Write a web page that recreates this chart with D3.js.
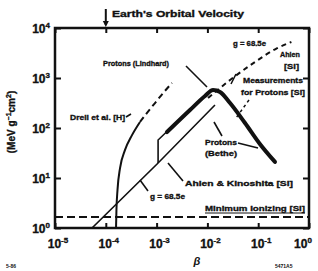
<!DOCTYPE html>
<html>
<head>
<meta charset="utf-8">
<script src="https://cdn.jsdelivr.net/npm/d3@7"></script>
<style>
  body { margin: 0; background: #fff; }
  text { font-family: "Liberation Sans", Arial, sans-serif; font-weight: bold; fill: #111; }
  .heavy { stroke: #111; stroke-width: 0.35; }
</style>
</head>
<body>
<svg id="chart"></svg>
<script>
// decades on both axes
const xDecades = [1e-5, 1e-4, 1e-3, 1e-2, 1e-1, 1];
const xExponents = ['-5', '-4', '-3', '-2', '-1', '0'];
const yDecades = [1, 10, 100, 1000, 10000];
const yExponents = ['0', '1', '2', '3', '4'];

// [beta, dE/dx in MeV g^-1 cm^2]
const drellSolid = [[1.59e-4, 1.0], [1.62e-4, 2.3], [1.70e-4, 5.8], [1.91e-4, 16], [2.38e-4, 36], [3.28e-4, 72], [4.71e-4, 132]];
const drellDashed = [[4.71e-4, 132], [6.2e-4, 190], [9.3e-4, 316], [1.40e-3, 525], [2.01e-3, 794]];
const monopoleLow = [[5.35e-5, 1.0], [1.07e-3, 20], [1.41e-2, 288]];
const kinoshitaUpper = [[1.07e-3, 20], [1.07e-3, 57.5], [8.97e-3, 457]];
const protons = [[1.6e-3, 83], [4.54e-3, 229], [8.97e-3, 437], [1.29e-2, 575], [1.77e-2, 525], [2.79e-2, 316], [5.5e-2, 126], [0.108, 48], [0.214, 21]];
const ahlenHigh = [[1.03e-2, 398], [2.79e-2, 912], [8.65e-2, 2090], [0.22, 3800], [0.45, 5250]];
const minIonizing = 1.66;
const earthBeta = 1e-4;

const W = 318, H = 271;
const margin = { left: 55, right: 9, top: 28, bottom: 43 };

const svg = d3.select('#chart').attr('width', W).attr('height', H);

const x = d3.scaleLog().domain([1e-5, 1]).range([margin.left, W - margin.right]);
const y = d3.scaleLog().domain([1, 1e4]).range([H - margin.bottom, margin.top]);

svg.append('clipPath').attr('id', 'plot')
  .append('rect')
  .attr('x', x(1e-5)).attr('y', y(1e4))
  .attr('width', x(1) - x(1e-5)).attr('height', y(1) - y(1e4));

// inward ticks on all four sides
const noLabel = () => '';
svg.append('g').attr('transform', `translate(0,${y(1)})`)
  .call(d3.axisBottom(x).tickValues(xDecades).tickSize(-5).tickFormat(noLabel));
svg.append('g').attr('transform', `translate(0,${y(1e4)})`)
  .call(d3.axisTop(x).tickValues(xDecades).tickSize(-5).tickFormat(noLabel));
svg.append('g').attr('transform', `translate(${x(1e-5)},0)`)
  .call(d3.axisLeft(y).tickValues(yDecades).tickSize(-6).tickFormat(noLabel));
svg.append('g').attr('transform', `translate(${x(1)},0)`)
  .call(d3.axisRight(y).tickValues(yDecades).tickSize(-6).tickFormat(noLabel));
svg.selectAll('.domain').remove();
svg.selectAll('.tick line').attr('stroke', '#111').attr('stroke-width', 2);

// frame
svg.append('rect')
  .attr('x', x(1e-5)).attr('y', y(1e4))
  .attr('width', x(1) - x(1e-5)).attr('height', y(1) - y(1e4))
  .attr('fill', 'none').attr('stroke', '#111').attr('stroke-width', 2.5);

// tick labels with superscripts
const xl = svg.append('g').selectAll('text').data(xDecades).enter().append('text')
  .attr('class', 'heavy')
  .attr('x', (d, i) => x(d) + (i === 5 ? -6 : 3))
  .attr('y', 248)
  .attr('text-anchor', 'middle')
  .attr('font-size', 12);
xl.append('tspan').text('10');
xl.append('tspan').attr('dy', -5).attr('font-size', 8).text((d, i) => xExponents[i]);

const yl = svg.append('g').selectAll('text').data(yDecades).enter().append('text')
  .attr('class', 'heavy')
  .attr('x', 50)
  .attr('y', d => y(d) + 5)
  .attr('text-anchor', 'end')
  .attr('font-size', 12);
yl.append('tspan').text('10');
yl.append('tspan').attr('dy', -5).attr('font-size', 8).text((d, i) => yExponents[i]);

// axis titles
const ylab = svg.append('text')
  .attr('class', 'heavy')
  .attr('transform', 'translate(15,122) rotate(-90)')
  .attr('text-anchor', 'middle')
  .attr('font-size', 10);
ylab.append('tspan').text('(MeV g');
ylab.append('tspan').attr('dy', -4).attr('font-size', 7).text('−1');
ylab.append('tspan').attr('dy', 4).text('cm');
ylab.append('tspan').attr('dy', -4).attr('font-size', 7).text('2');
ylab.append('tspan').attr('dy', 4).text(')');

svg.append('text').attr('x', 197).attr('y', 265).attr('font-size', 11)
  .attr('font-style', 'italic').attr('text-anchor', 'middle').text('β');
svg.append('text').attr('x', 6).attr('y', 268).attr('font-size', 5).text('5-86');
svg.append('text').attr('x', 275).attr('y', 268).attr('font-size', 5).text('5471A5');

// title and Earth's velocity marker
svg.append('text').attr('class', 'heavy').attr('x', 112).attr('y', 17).attr('font-size', 9)
  .attr('textLength', 132).attr('lengthAdjust', 'spacingAndGlyphs')
  .text("Earth's Orbital Velocity");
svg.append('line')
  .attr('x1', x(earthBeta)).attr('x2', x(earthBeta))
  .attr('y1', 9).attr('y2', y(1e4) - 3)
  .attr('stroke', '#111').attr('stroke-width', 2);
svg.append('path')
  .attr('d', `M${x(earthBeta) - 3},${y(1e4) - 7} L${x(earthBeta)},${y(1e4) - 1} L${x(earthBeta) + 3},${y(1e4) - 7} Z`)
  .attr('fill', '#111');

// curves
const line = d3.line().x(d => x(d[0])).y(d => y(d[1]));
const smooth = d3.line().x(d => x(d[0])).y(d => y(d[1])).curve(d3.curveMonotoneX);
const plot = svg.append('g').attr('clip-path', 'url(#plot)');

plot.append('line')
  .attr('x1', x(1e-5)).attr('x2', x(1))
  .attr('y1', y(minIonizing)).attr('y2', y(minIonizing))
  .attr('stroke', '#111').attr('stroke-width', 2).attr('stroke-dasharray', '8,4');

plot.append('path').datum(drellSolid).attr('d', smooth)
  .attr('fill', 'none').attr('stroke', '#111').attr('stroke-width', 2);
plot.append('path').datum(drellDashed).attr('d', smooth)
  .attr('fill', 'none').attr('stroke', '#111').attr('stroke-width', 2)
  .attr('stroke-dasharray', '6,4');

plot.append('path').datum(monopoleLow).attr('d', line)
  .attr('fill', 'none').attr('stroke', '#111').attr('stroke-width', 1.6);
plot.append('path').datum(kinoshitaUpper).attr('d', line)
  .attr('fill', 'none').attr('stroke', '#111').attr('stroke-width', 1.6);

plot.append('path').datum(protons).attr('d', smooth)
  .attr('fill', 'none').attr('stroke', '#111').attr('stroke-width', 4)
  .attr('stroke-linecap', 'round');

plot.append('path').datum(ahlenHigh).attr('d', smooth)
  .attr('fill', 'none').attr('stroke', '#111').attr('stroke-width', 2)
  .attr('stroke-dasharray', '5,4');

// labels
const labels = [
  { t: 'g = 68.5e', x: 233, y: 46, w: 33 },
  { t: 'Ahlen', x: 280, y: 57, w: 20 },
  { t: '[Si]', x: 284, y: 69, w: 15 },
  { t: 'Protons (Lindhard)', x: 103, y: 66, w: 66 },
  { t: 'Measurements', x: 243, y: 83, w: 60 },
  { t: 'for Protons [Si]', x: 241, y: 95, w: 64 },
  { t: 'Drell et al. [H]', x: 70, y: 120, w: 55 },
  { t: 'Protons', x: 205, y: 145, w: 32 },
  { t: '(Bethe)', x: 205, y: 156, w: 32 },
  { t: 'Ahlen & Kinoshita [Si]', x: 185, y: 186, w: 108 },
  { t: 'g = 68.5e', x: 150, y: 199, w: 35 },
  { t: 'Minimum Ionizing [Si]', x: 205, y: 211, w: 100 }
];
svg.append('g').selectAll('text').data(labels).enter().append('text')
  .attr('class', 'heavy')
  .attr('x', d => d.x).attr('y', d => d.y)
  .attr('font-size', 8)
  .attr('textLength', d => d.w).attr('lengthAdjust', 'spacingAndGlyphs')
  .text(d => d.t);
svg.append('line').attr('x1', 205).attr('x2', 305).attr('y1', 213).attr('y2', 213)
  .attr('stroke', '#111').attr('stroke-width', 1);

// leader lines
const leaders = [
  [[186, 66], [207, 87]],
  [[126, 117], [131, 114]],
  [[238, 143], [258, 148]],
  [[222, 136], [214, 122]],
  [[183, 181], [168, 163]],
  [[148, 191], [140, 180]],
  [[236, 74], [231, 84]]
];
svg.append('g').selectAll('path').data(leaders).enter().append('path')
  .attr('d', d3.line())
  .attr('fill', 'none').attr('stroke', '#111').attr('stroke-width', 1.6);
svg.append('path').attr('d', d3.line()([[249, 100], [236, 118]]))
  .attr('fill', 'none').attr('stroke', '#111').attr('stroke-width', 1.5)
  .attr('stroke-dasharray', '3,3');
</script>
</body>
</html>
